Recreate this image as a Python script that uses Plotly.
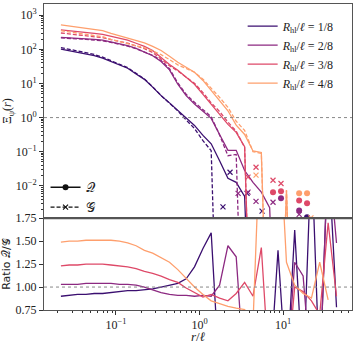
import plotly.graph_objects as go
from plotly.subplots import make_subplots

# separation r/l (log-spaced bins)
r = [0.0219, 0.0275, 0.0347, 0.0437, 0.0550, 0.0692, 0.0871, 0.110, 0.138, 0.174,
     0.219, 0.275, 0.347, 0.437, 0.550, 0.692, 0.871, 1.10, 1.38, 1.74,
     2.19, 2.75, 3.47, 4.37, 5.50, 6.92, 8.71, 11.0, 13.8, 17.4,
     21.9, 27.5, 34.7, 43.7]

labels = ["1/8", "2/8", "3/8", "4/8"]
colors = ["#3b0f70", "#8c2981", "#de4968", "#fe9f6d"]

# Xi for estimator Q (solid) and G (dashed); 0 = estimator hit zero
xi_q_1 = [102, 91, 81, 72, 66, 55, 44, 34, 28, 19, 13.2, 7.8, 4.4, 2.7, 1.62, 0.93, 0.59, 0.30,
          0.17, 0.054, 0.0166, 0.0126, 0.0049, 0]
xi_g_1 = [113, 100, 88, 78, 71, 59, 47, 36, 29, 19.8, 13.6, 8.0, 4.4, 2.65, 1.56, 0.85, 0.48, 0.21,
          0.107, 0]
xi_q_2 = [224, 219, 209, 204, 195, 186, 166, 148, 129, 107, 85, 65, 44, 25, 9.5, 4.4, 2.5, 1.51,
          0.95, 0.32, 0.11, 0.11, 0.028, 0.0126, 0.0065, 0.0023, 0]
xi_g_2 = [217, 213, 203, 196, 188, 179, 160, 144, 125, 105, 85, 67, 47, 27, 10.4, 4.8, 2.8, 1.66,
          1.06, 0.31, 0.076, 0.083, 0]
xi_q_3 = [372, 355, 339, 316, 295, 275, 240, 214, 186, 151, 123, 93, 59, 36, 24.5, 15.1, 9.5, 4.8,
          2.5, 1.32, 0.63, 0.37, 0.14, 0]
xi_g_3 = [302, 286, 273, 253, 236, 220, 194, 174, 152, 126, 105, 81, 53, 33, 23.3, 15.3, 10.1, 5.4,
          2.7, 1.5, 0.74, 0.40, 0.133, 0]
xi_q_4 = [525, 490, 447, 417, 389, 355, 295, 251, 214, 186, 155, 123, 93, 63, 42, 30, 21.4, 12.3,
          6.3, 3.2, 1.58, 0.60, 0.32, 0.105, 0.095, 0, 0, 0.0074, 0]
xi_g_4 = [352, 327, 298, 276, 258, 235, 195, 167, 145, 128, 111, 90, 70, 50, 35, 27.5, 21.4, 13.4,
          7.4, 3.9, 2.0, 0.78, 0.42, 0.10, 0.089, 0, 0, 0.0074, 0]

# isolated points further out
dot_r_1, dot_xi_1 = [19.4], [0.0012]
crs_r_1, crs_xi_1 = [1.91, 2.32, 3.71, 5.61], [0.0024, 0.025, 0.006, 0.0018]
dot_r_2, dot_xi_2 = [9.46, 15.6], [0.0043, 0.0019]
crs_r_2, crs_xi_2 = [2.9, 3.81, 4.75, 7.59, 15.6], [0.006, 0.0065, 0.0035, 0.0033, 0.00145]
dot_r_3, dot_xi_3 = [7.59, 9.46, 15.6, 19.4], [0.0065, 0.0069, 0.0037, 0.0031]
crs_r_3, crs_xi_3 = [3.81, 4.75, 7.59, 9.46], [0.018, 0.035, 0.0145, 0.0117]
dot_r_4, dot_xi_4 = [15.6, 19.4], [0.006, 0.006]
crs_r_4, crs_xi_4 = [4.75, 21.6], [0.0205, 0.00115]

# ratio Q/G
ratio_1 = [0.90, 0.91, 0.92, 0.92, 0.93, 0.93, 0.94, 0.95, 0.96, 0.96, 0.97, 0.98, 1.00, 1.02,
           1.04, 1.09, 1.22, 1.42, 1.59, 0, 0, 0, 0, 0, 0, 0, 1.40, 0, 1.62, 0, 2.5, 0, 2.5, 0.78]
ratio_2 = [1.03, 1.03, 1.03, 1.04, 1.04, 1.04, 1.04, 1.03, 1.03, 1.02, 1.00, 0.97, 0.94, 0.92,
           0.91, 0.91, 0.90, 0.91, 0.90, 1.02, 1.45, 1.33, 0, 0, 0, 0, 0, 0, 1.27, 1.12, 0, 0, 2.5, 1.48]
ratio_3 = [1.23, 1.24, 1.24, 1.25, 1.25, 1.25, 1.24, 1.23, 1.22, 1.20, 1.17, 1.15, 1.12, 1.08,
           1.05, 0.99, 0.94, 0.89, 0.92, 0.88, 0.85, 0.93, 1.05, 0.90, 1.43, 0, 0, 0, 1.00, 0.95,
           0.85, 0.70, 1.70, 0.90]
ratio_4 = [1.49, 1.50, 1.50, 1.51, 1.51, 1.51, 1.51, 1.50, 1.48, 1.45, 1.40, 1.37, 1.32, 1.27,
           1.19, 1.09, 1.00, 0.92, 0.85, 0.82, 0.79, 0.77, 0.755, 0.60, 3.0, 3.0, 3.0, 1.27, 1.02,
           0.93, 0.88, 1.27, 0.86]

q_all = [xi_q_1, xi_q_2, xi_q_3, xi_q_4]
g_all = [xi_g_1, xi_g_2, xi_g_3, xi_g_4]
ratios = [ratio_1, ratio_2, ratio_3, ratio_4]
dots = [(dot_r_1, dot_xi_1), (dot_r_2, dot_xi_2), (dot_r_3, dot_xi_3), (dot_r_4, dot_xi_4)]
crosses = [(crs_r_1, crs_xi_1), (crs_r_2, crs_xi_2), (crs_r_3, crs_xi_3), (crs_r_4, crs_xi_4)]

FLOOR = 1e-9  # zeros clipped below the log axis, like matplotlib does
serif = "Liberation Serif"
top_range = [-2.95, 3.33]

fig = make_subplots(rows=2, cols=1, shared_xaxes=True, vertical_spacing=0,
                    row_heights=[0.7, 0.3])

for i in range(4):
    q = [v if v > 0 else FLOOR for v in q_all[i]]
    g = [v if v > 0 else FLOOR for v in g_all[i]]
    name = "<i>R</i><sub>hl</sub>/<i>ℓ</i> = " + labels[i]
    fig.add_trace(go.Scatter(x=r[:len(g)], y=g, mode="lines", showlegend=False,
                             line=dict(color=colors[i], width=1.3, dash="4px,2px")), row=1, col=1)
    fig.add_trace(go.Scatter(x=r[:len(q)], y=q, mode="lines", name=name, legend="legend",
                             line=dict(color=colors[i], width=1.3)), row=1, col=1)
    fig.add_trace(go.Scatter(x=dots[i][0], y=dots[i][1], mode="markers", showlegend=False,
                             marker=dict(color=colors[i], size=6, symbol="circle")), row=1, col=1)
    fig.add_trace(go.Scatter(x=crosses[i][0], y=crosses[i][1], mode="markers", showlegend=False,
                             marker=dict(color=colors[i], size=5, symbol="x-thin",
                                         line=dict(color=colors[i], width=1.2))), row=1, col=1)
    fig.add_trace(go.Scatter(x=r[:len(ratios[i])], y=ratios[i], mode="lines", showlegend=False,
                             line=dict(color=colors[i], width=1.3)), row=2, col=1)

# style legend
fig.add_trace(go.Scatter(x=[None], y=[None], mode="lines+markers", name="𝒬", legend="legend2",
                         line=dict(color="#111", width=1.3),
                         marker=dict(color="#111", size=6, symbol="circle")), row=1, col=1)
fig.add_trace(go.Scatter(x=[None], y=[None], mode="lines+markers", name="𝒢", legend="legend2",
                         line=dict(color="#111", width=1.3, dash="4px,2px"),
                         marker=dict(color="#111", size=5, symbol="x-thin",
                                     line=dict(color="#111", width=1.2))), row=1, col=1)

# dotted reference lines at Xi = 1 and ratio = 1
one_frac = (0 - top_range[0]) / (top_range[1] - top_range[0])
fig.add_shape(type="line", xref="x domain", yref="y domain", x0=0, x1=1, y0=one_frac, y1=one_frac,
              line=dict(color="#888", width=1, dash="dot"))
fig.add_shape(type="line", xref="x2 domain", yref="y2", x0=0, x1=1, y0=1, y1=1,
              line=dict(color="#888", width=1, dash="dot"))
fig.add_shape(type="line", xref="paper", yref="paper", x0=0, x1=1, y0=0.3, y1=0.3,
              line=dict(color="#555", width=2))

minor_x = [m * 10 ** e for e in range(-2, 2) for m in range(2, 10)]
minor_y = [m * 10 ** e for e in range(-3, 3) for m in range(2, 10)]
axis_common = dict(showline=True, mirror=True, linecolor="#555", linewidth=1, automargin=False,
                   showgrid=False, zeroline=False, ticks="outside", tickcolor="#333",
                   tickfont=dict(family=serif, size=12, color="#222"))

fig.update_xaxes(type="log", range=[-1.862, 1.826], **axis_common)
fig.update_xaxes(ticks="", showticklabels=False, row=1, col=1)
fig.update_xaxes(tickvals=[0.1, 1, 10], ticktext=["10<sup>−1</sup>", "10<sup>0</sup>", "10<sup>1</sup>"],
                 ticklen=4, minor=dict(tickvals=minor_x, ticks="outside", ticklen=2, tickcolor="#333"),
                 title=dict(text="<i>r</i>/<i>ℓ</i>", font=dict(family=serif, size=13), standoff=3),
                 row=2, col=1)
fig.update_yaxes(type="log", range=top_range, row=1, col=1, **axis_common)
fig.update_yaxes(tickvals=[0.01, 0.1, 1, 10, 100, 1000],
                 ticktext=["10<sup>−2</sup>", "10<sup>−1</sup>", "10<sup>0</sup>", "10<sup>1</sup>",
                           "10<sup>2</sup>", "10<sup>3</sup>"],
                 ticklen=4, minor=dict(tickvals=minor_y, ticks="outside", ticklen=2, tickcolor="#333"),
                 title=dict(text="Ξ<sub>ψ</sub>(<i>r</i>)", font=dict(family=serif, size=12), standoff=4),
                 row=1, col=1)
fig.update_yaxes(range=[0.75, 1.75], tickvals=[0.75, 1.0, 1.25, 1.5, 1.75],
                 ticktext=["0.75", "1.00", "1.25", "1.50", "1.75"], ticklen=4,
                 title=dict(text="Ratio 𝒬/𝒢", font=dict(family="DejaVu Sans", size=11), standoff=4),
                 row=2, col=1, **axis_common)

fig.update_layout(
    width=357, height=344,
    margin=dict(l=44, r=5, t=4, b=34, autoexpand=False),
    plot_bgcolor="white", paper_bgcolor="white",
    font=dict(family=serif, size=12, color="#222"),
    legend=dict(x=0.645, y=0.975, xanchor="left", yanchor="top", bgcolor="rgba(0,0,0,0)",
                font=dict(family=serif, size=12), itemwidth=30, tracegroupgap=0),
    legend2=dict(x=0.005, y=0.45, xanchor="left", yanchor="top", bgcolor="rgba(0,0,0,0)",
                 font=dict(family=serif, size=13), itemwidth=30),
)

# drop the default page margin so the figure sits at the window's corner
fig.write_html("out.html", config={"displayModeBar": False},
               post_script="document.body.style.margin='0';")
